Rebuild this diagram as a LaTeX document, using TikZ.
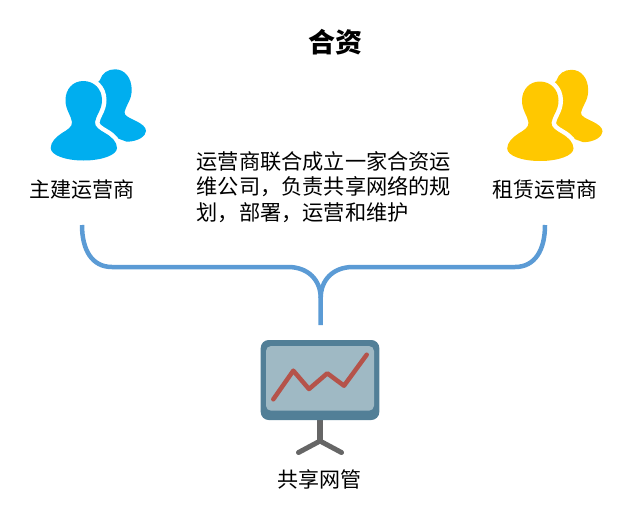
\documentclass[tikz,border=0pt]{standalone}
\usepackage{fontspec}
\newfontfamily\cjk{Noto Sans CJK SC}
\definecolor{conn}{HTML}{5B9BD5}
\definecolor{usera}{HTML}{00AEEF}
\definecolor{userb}{HTML}{FFC800}
\definecolor{frameblue}{HTML}{527F97}
\definecolor{screenblue}{HTML}{9FB9C4}
\definecolor{trend}{HTML}{B5534A}
\definecolor{standgrey}{HTML}{666666}
\newcommand{\frontshape}{(83.3,81)
      .. controls (94,81) and (102,89) .. (102,100)
      .. controls (102,110) and (96,115) .. (95,122)
      .. controls (94.5,127) and (100,130) .. (105,133)
      .. controls (112,137) and (117,142) .. (117,148)
      .. controls (117,155) and (102,160.5) .. (83.5,160.5)
      .. controls (65,160.5) and (50.7,155) .. (50.7,148)
      .. controls (50.7,142) and (56,137) .. (62,133)
      .. controls (67,130) and (72.5,127) .. (72,122)
      .. controls (71,115) and (65.5,110) .. (65.5,100)
      .. controls (65.5,89) and (73,81) .. (83.3,81) -- cycle}
\tikzset{
  x=1pt,y=-1pt,
  lbl/.style={font=\cjk\fontsize{21}{26}\selectfont,inner sep=0pt,text=black},
  titlelbl/.style={font=\cjk\bfseries\fontsize{27}{30}\selectfont,inner sep=0pt,text=black},
  bodylbl/.style={font=\cjk\fontsize{21.2}{25.5}\selectfont,inner sep=0pt,text=black,align=left,anchor=north west},
  linkline/.style={draw=conn,line width=4.5pt},
  user/.pic={
    \fill[pic actions] (100,80) .. controls (102,73) and (108,69.3) .. (115,69.3)
      .. controls (125,69.3) and (131.7,78) .. (131.7,90)
      .. controls (131.7,100) and (126,105) .. (124.5,112)
      .. controls (124,116) and (130,118) .. (136,121)
      .. controls (142,124) and (146,127) .. (146,131)
      .. controls (146,136) and (138,141.7) .. (126.7,141.7)
      -- (95,130) -- (90,90) -- cycle;
    \draw[white,line width=9pt] \frontshape;
    \fill[pic actions] \frontshape;
  }
}
\begin{document}
\begin{tikzpicture}
\useasboundingbox (0,0) rectangle (639,506);
\pic[fill=usera] at (0,0) {user};
\pic[fill=userb] at (456.5,0.5) {user};
\node[titlelbl] (title) at (335,42) {合资};
\node[lbl] (lead) at (81.5,190) {主建运营商};
\node[lbl] (tenant) at (545,190) {租赁运营商};
\node[bodylbl] (body) at (196.5,151) {运营商联合成立一家合资运\\维公司，负责共享网络的规\\划，部署，运营和维护};
\node[lbl] (nms) at (319,479) {共享网管};
\coordinate (la) at (82,225);
\coordinate (ra) at (545,225);
\coordinate (join) at (320.7,298);
\coordinate (foot) at (320.7,325);
\draw[linkline] (la) .. controls (82,250) and (92,267) .. (112,267) -- (288,267)
   .. controls (308,267) and (320.7,280) .. (join) -- (foot);
\draw[linkline] (ra) .. controls (545,250) and (535,267) .. (515,267) -- (353,267)
   .. controls (333,267) and (320.7,280) .. (join);
% display
\draw[standgrey,line width=6.5pt] (320,420) -- (320,443);
\draw[standgrey,line width=5pt,line cap=round,line join=round] (298.5,452.5) -- (320,441) -- (341.5,452.5);
\fill[frameblue,rounded corners=8pt] (260.7,340) rectangle (379.3,420);
\fill[screenblue,rounded corners=5pt] (266,346) rectangle (374,410.7);
\draw[trend,line width=4.5pt,line cap=round,line join=round] (273.3,399.3) -- (293.3,370.7) -- (309,389) -- (327.3,373.3) -- (344,385.7) -- (366.7,354.7);
\end{tikzpicture}
\end{document}
